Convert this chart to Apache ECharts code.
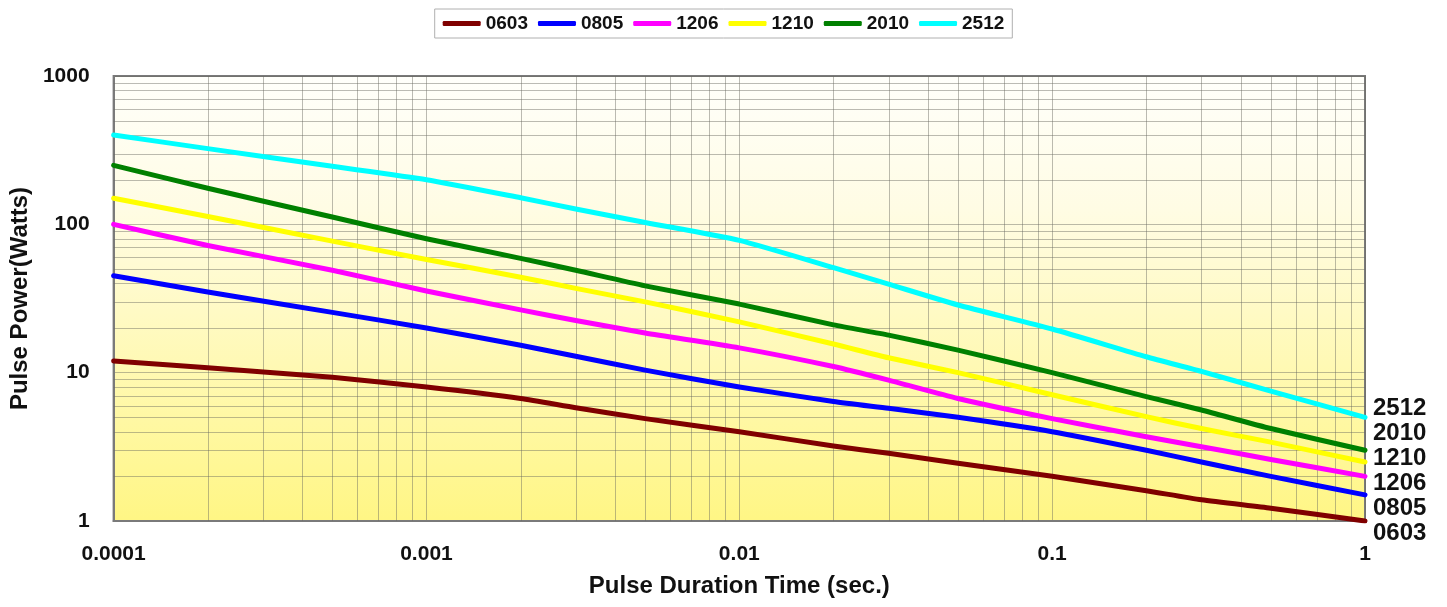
<!DOCTYPE html>
<html>
<head>
<meta charset="utf-8">
<script src="https://cdn.jsdelivr.net/npm/echarts@6/dist/echarts.min.js"></script>
<style>
  html, body { margin: 0; padding: 0; background: #ffffff; }
  #chart { width: 1447px; height: 607px; }
</style>
</head>
<body>
<div id="chart"></div>
<script>
// ---- data ----
const pulseTimes = [0.0001, 0.0002, 0.0005, 0.001, 0.002, 0.003, 0.005, 0.01, 0.02, 0.03, 0.05, 0.1, 0.2, 0.3, 0.5, 1];
const s0603 = [12, 10.8, 9.3, 8.0, 6.7, 5.8, 4.9, 4.0, 3.2, 2.86, 2.45, 2.0, 1.6, 1.39, 1.22, 1.0];
const s0805 = [45, 35, 25.5, 20, 15.3, 12.9, 10.4, 8.0, 6.4, 5.75, 5.0, 4.0, 3.0, 2.5, 2.0, 1.5];
const s1206 = [100, 72, 49, 35.5, 26.5, 22.5, 18.5, 14.7, 11, 8.9, 6.7, 4.9, 3.7, 3.17, 2.6, 2.0];
const s1210 = [150, 113, 77, 58, 44, 37, 30, 22, 15.6, 12.6, 10, 7.1, 5.05, 4.2, 3.4, 2.5];
const s2010 = [250, 175, 112, 80, 59, 49, 38.5, 29, 21, 17.9, 14.2, 10, 6.9, 5.6, 4.2, 3.0];
const s2512 = [400, 324, 246, 200, 151, 127, 103, 78, 51, 39.5, 28.6, 19.7, 12.8, 10.2, 7.5, 5.0];
const seriesNames = ['0603', '0805', '1206', '1210', '2010', '2512'];
const seriesValues = [s0603, s0805, s1206, s1210, s2010, s2512];
const seriesColors = ['#800000', '#0000ff', '#ff00ff', '#ffff00', '#008000', '#00ffff'];
const xTickLabels = ['0.0001', '0.001', '0.01', '0.1', '1'];
const yTickLabels = ['1', '10', '100', '1000'];
const rightLabels = ['2512', '2010', '1210', '1206', '0805', '0603'];
const xDecades = [-4, -3, -2, -1];
const yDecades = [0, 1, 2];
const minorMultipliers = [2, 3, 4, 5, 6, 7, 8, 9];

const FONT = '"Liberation Sans", Arial, Helvetica, sans-serif';

// minor grid positions (2..9 within each decade)
const xMinor = [];
xDecades.forEach(d => minorMultipliers.forEach(m => xMinor.push(+(m * Math.pow(10, d)).toPrecision(6))));
const yMinor = [];
yDecades.forEach(d => minorMultipliers.forEach(m => yMinor.push(+(m * Math.pow(10, d)).toPrecision(6))));

const GRID_COLOR = 'rgba(105,105,95,0.45)';
const gridLineStyle = { color: GRID_COLOR, width: 1, type: 'solid' };

const series = seriesNames.map((name, i) => ({
  name: name,
  type: 'line',
  data: pulseTimes.map((t, j) => [t, seriesValues[i][j]]),
  showSymbol: false,
  symbol: 'none',
  smooth: 0.2,
  lineStyle: { color: seriesColors[i], width: 5, cap: 'round', join: 'round' },
  itemStyle: { color: seriesColors[i] },
  z: 5 + i
}));

// minor grid lines, positioned through the axes' scales
function minorGridSeries(values, vertical) {
  return {
    type: 'custom',
    silent: true,
    z: 1,
    clip: true,
    data: values.map(v => vertical ? [v, 1] : [1, v]),
    renderItem: function (params, api) {
      const cs = params.coordSys;
      const p = api.coord([api.value(0), api.value(1)]);
      const shape = vertical
        ? { x1: Math.round(p[0]) + 0.5, y1: cs.y, x2: Math.round(p[0]) + 0.5, y2: cs.y + cs.height }
        : { x1: cs.x, y1: Math.round(p[1]) + 0.5, x2: cs.x + cs.width, y2: Math.round(p[1]) + 0.5 };
      return { type: 'line', shape: shape, style: { stroke: GRID_COLOR, lineWidth: 1 } };
    }
  };
}
series.push(minorGridSeries(xMinor, true));
series.push(minorGridSeries(yMinor, false));

const chart = echarts.init(document.getElementById('chart'), null, { renderer: 'canvas' });
chart.setOption({
  animation: false,
  backgroundColor: '#ffffff',
  textStyle: { fontFamily: FONT },
  legend: {
    data: seriesNames,
    top: 9,
    left: 'center',
    padding: [5, 8],
    itemGap: 10,
    itemWidth: 38,
    itemHeight: 5,
    icon: 'roundRect',
    borderColor: '#b0b0b0',
    borderWidth: 1,
    backgroundColor: '#ffffff',
    textStyle: { fontFamily: FONT, fontSize: 19, fontWeight: 'bold', color: '#111' }
  },
  grid: {
    left: 113, right: 82, top: 76, bottom: 86,
    show: true,
    borderColor: '#7a7a7a',
    borderWidth: 2,
    backgroundColor: {
      type: 'linear', x: 0, y: 0, x2: 0, y2: 1,
      colorStops: [
        { offset: 0, color: '#fffffb' },
        { offset: 0.3, color: '#fffce4' },
        { offset: 1, color: '#fff684' }
      ]
    }
  },
  xAxis: {
    type: 'log',
    logBase: 10,
    min: 0.0001,
    max: 1,
    name: 'Pulse Duration Time (sec.)',
    nameLocation: 'middle',
    nameGap: 53,
    nameTextStyle: { fontFamily: FONT, fontSize: 24, fontWeight: 'bold', color: '#111' },
    axisLine: { show: true, lineStyle: { color: '#7a7a7a', width: 2 } },
    axisTick: { show: false },
    axisLabel: {
      margin: 23,
      fontFamily: FONT, fontSize: 21, fontWeight: 'bold', color: '#111',
      formatter: v => xTickLabels[Math.round(Math.log10(v)) + 4]
    },
    splitLine: { show: true, lineStyle: gridLineStyle }
  },
  yAxis: {
    type: 'log',
    logBase: 10,
    min: 1,
    max: 1000,
    name: 'Pulse Power(Watts)',
    nameLocation: 'middle',
    nameGap: 64,
    nameTextStyle: { fontFamily: FONT, fontSize: 24, fontWeight: 'bold', color: '#111' },
    axisLine: { show: true, lineStyle: { color: '#7a7a7a', width: 2 } },
    axisTick: { show: false },
    axisLabel: {
      margin: 24,
      fontFamily: FONT, fontSize: 21, fontWeight: 'bold', color: '#111',
      formatter: v => yTickLabels[Math.round(Math.log10(v))]
    },
    splitLine: { show: true, lineStyle: gridLineStyle }
  },
  graphic: rightLabels.map((t, i) => ({
    type: 'text',
    x: 1373,
    y: 408 + i * 25,
    z: 10,
    style: {
      text: t,
      font: 'bold 24px ' + FONT,
      fill: '#111',
      verticalAlign: 'middle',
      align: 'left'
    }
  })),
  series: series
});
</script>
</body>
</html>
